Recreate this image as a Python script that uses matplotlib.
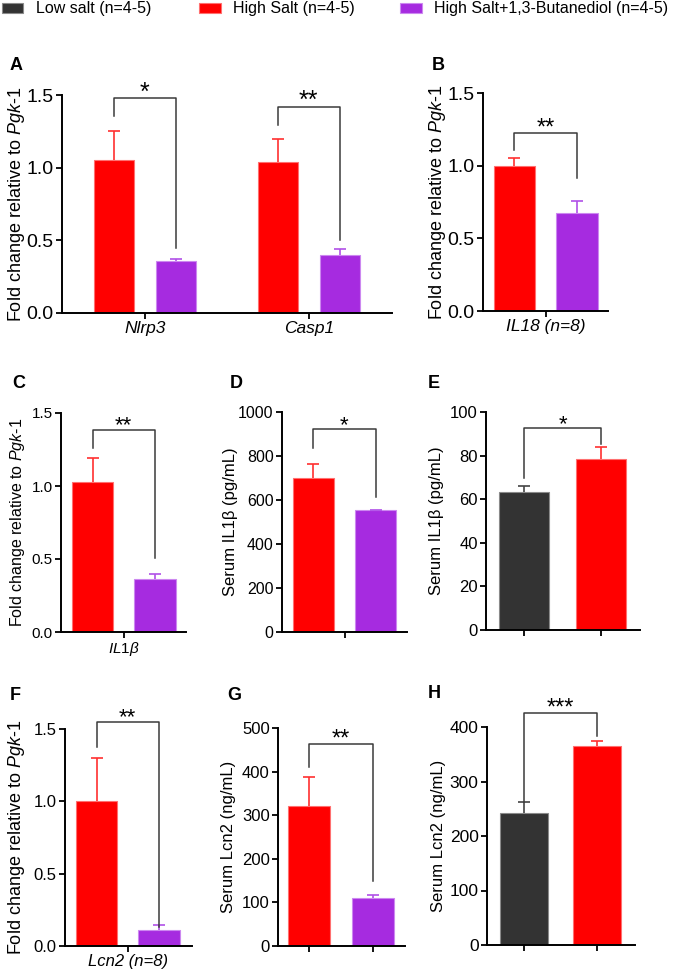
import matplotlib
matplotlib.use('Agg')
import matplotlib.pyplot as plt
from matplotlib.patches import Rectangle

plt.rcParams['font.family'] = ['Liberation Sans', 'DejaVu Sans']
plt.rcParams['mathtext.fontset'] = 'custom'
plt.rcParams['mathtext.rm'] = 'Liberation Sans'
plt.rcParams['mathtext.it'] = 'Liberation Sans:italic'

# ---------------- data ----------------
legend_labels = ['Low salt (n=4-5)', 'High Salt (n=4-5)', 'High Salt+1,3-Butanediol (n=4-5)']

a_genes = ['Nlrp3', 'Casp1']
a_high = [1.05, 1.04]
a_high_err = [0.20, 0.16]
a_bhb = [0.355, 0.40]
a_bhb_err = [0.015, 0.04]
a_sig = ['*', '**']

b_vals = [1.00, 0.675]
b_err = [0.05, 0.08]
c_vals = [1.03, 0.36]
c_err = [0.16, 0.04]
d_vals = [700, 553]
d_err = [65, 3]
e_vals = [63.5, 78.5]
e_err = [2.5, 5.5]
f_vals = [1.00, 0.11]
f_err = [0.30, 0.035]
g_vals = [320, 110]
g_err = [67, 7]
h_vals = [242, 365]
h_err = [21, 9]

b_sig, c_sig, d_sig, e_sig, f_sig, g_sig, h_sig = '**', '**', '*', '*', '**', '**', '***'

# ---------------- style ----------------
C_LOW = '#333333'
C_HIGH = '#FF0000'
C_BHB = '#A62BE0'
EDGE = {C_LOW: '#8a8a8a', C_HIGH: '#ff7070', C_BHB: '#cc88f0'}
ERRC = {C_LOW: '#444444', C_HIGH: '#ff3030', C_BHB: '#b050e8'}
BRK = '#3a3a3a'

W, H = 675, 973
fig = plt.figure(figsize=(W / 100, H / 100), dpi=100)


def mk(x0, x1, ytop, ybot):
    return fig.add_axes([x0 / W, 1 - ybot / H, (x1 - x0) / W, (ybot - ytop) / H])


def style(ax, ylim, yticks, tsize):
    for s in ['top', 'right']:
        ax.spines[s].set_visible(False)
    for s in ['left', 'bottom']:
        ax.spines[s].set_linewidth(1.4)
        ax.spines[s].set_color('black')
    ax.set_ylim(*ylim)
    ax.set_yticks(yticks)
    ax.tick_params(axis='both', direction='out', length=4, width=1.3, labelsize=tsize, pad=2)


def bars(ax, xs, vals, errs, colors, width=0.66):
    x0, x1 = ax.get_xlim()
    ppu = ax.get_position().width * W / (x1 - x0)
    cw = 6.0 / ppu
    for x, v, e, c in zip(xs, vals, errs, colors):
        ax.bar(x, v, width=width, color=c, edgecolor=EDGE[c], linewidth=0.8, zorder=2)
        ax.vlines(x, v, v + e, color=ERRC[c], lw=1.2, zorder=3)
        ax.hlines(v + e, x - cw, x + cw, color=ERRC[c], lw=1.2, zorder=3)


def bracket(ax, x1, x2, top, yl, yr, sig, fs=17, off=-1):
    ax.plot([x1, x1, x2, x2], [yl, top, top, yr], color=BRK, lw=1.1, clip_on=False, zorder=4)
    ax.annotate(sig, xy=((x1 + x2) / 2, top), xytext=(0, off), textcoords='offset points',
                ha='center', va='baseline', fontsize=fs, annotation_clip=False)


def ftext(x, y, s, **kw):
    fig.text(x / W, 1 - y / H, s, **kw)


YL_FOLD = r'Fold change relative to $\mathit{Pgk}$-$\mathit{1}$'

# ---------------- legend ----------------
leg_boxes = [(2, 23), (199, 221), (400, 422)]
leg_text_x = [36, 233, 434]
for (x0, x1), tx, lab, c in zip(leg_boxes, leg_text_x, legend_labels, [C_LOW, C_HIGH, C_BHB]):
    fig.add_artist(Rectangle((x0 / W, 1 - 13 / H), (x1 - x0) / W, 10 / H, transform=fig.transFigure,
                             facecolor=c, edgecolor=EDGE[c], linewidth=0.8))
    ftext(tx, 9, lab, ha='left', va='center', fontsize=11.5)

# ---------------- Panel A ----------------
ax = mk(62, 392, 95, 312.7)
ax.set_xlim(-0.846, 4.52)
gpos = [0, 2.667]
xs_h = [g for g in gpos]
xs_b = [g + 1 for g in gpos]
for i in range(2):
    bars(ax, [xs_h[i], xs_b[i]], [a_high[i], a_bhb[i]], [a_high_err[i], a_bhb_err[i]], [C_HIGH, C_BHB], width=0.65)
style(ax, (0, 1.5), [0, 0.5, 1.0, 1.5], 14)
ax.set_yticklabels(['0.0', '0.5', '1.0', '1.5'])
ax.set_xlim(-0.846, 4.52)
ax.set_xticks([g + 0.5 for g in gpos])
ax.set_xticklabels(a_genes, fontstyle='italic', fontsize=12.5)
bracket(ax, xs_h[0], xs_b[0], 1.479, 1.355, 0.446, a_sig[0], fs=18)
bracket(ax, xs_h[1], xs_b[1], 1.42, 1.29, 0.50, a_sig[1], fs=18)
ftext(17, 204, YL_FOLD, rotation=90, ha='center', va='center', fontsize=13)
ftext(10, 66, 'A', fontweight='bold', fontsize=13, ha='left', va='center')

# ---------------- Panel B ----------------
ax = mk(483, 608, 93, 311)
ax.set_xlim(-0.504, 1.496)
bars(ax, [0, 1], b_vals, b_err, [C_HIGH, C_BHB])
style(ax, (0, 1.5), [0, 0.5, 1.0, 1.5], 14)
ax.set_yticklabels(['0.0', '0.5', '1.0', '1.5'])
ax.set_xlim(-0.504, 1.496)
ax.set_xticks([0.5])
ax.set_xticklabels(['IL18 (n=8)'], fontstyle='italic', fontsize=12.5)
bracket(ax, 0, 1, 1.227, 1.108, 0.917, b_sig, fs=17)
ftext(438, 202, YL_FOLD, rotation=90, ha='center', va='center', fontsize=13)
ftext(432, 66, 'B', fontweight='bold', fontsize=13, ha='left', va='center')

# ---------------- Panel C ----------------
ax = mk(61, 186, 413, 632)
ax.set_xlim(-0.504, 1.496)
bars(ax, [0, 1], c_vals, c_err, [C_HIGH, C_BHB])
style(ax, (0, 1.5), [0, 0.5, 1.0, 1.5], 11)
ax.set_yticklabels(['0.0', '0.5', '1.0', '1.5'])
ax.set_xlim(-0.504, 1.496)
ax.set_xticks([0.5])
ax.set_xticklabels([r'$\mathit{IL1\beta}$'], fontsize=11)
bracket(ax, 0, 1, 1.384, 1.26, 0.507, c_sig, fs=16)
ftext(18, 522, YL_FOLD, rotation=90, ha='center', va='center', fontsize=11.5)
ftext(12, 384, 'C', fontweight='bold', fontsize=13, ha='left', va='center')

# ---------------- Panel D ----------------
ax = mk(282, 407, 412, 632)
ax.set_xlim(-0.508, 1.508)
bars(ax, [0, 1], d_vals, d_err, [C_HIGH, C_BHB])
style(ax, (0, 1000), [0, 200, 400, 600, 800, 1000], 11.5)
ax.set_xlim(-0.508, 1.508)
ax.set_xticks([0.5])
ax.set_xticklabels([''])
bracket(ax, 0, 1, 921, 836, 614, d_sig, fs=16)
ftext(231, 522, 'Serum IL1β (pg/mL)', rotation=90, ha='center', va='center', fontsize=12)
ftext(230, 384, 'D', fontweight='bold', fontsize=13, ha='left', va='center')

# ---------------- Panel E ----------------
ax = mk(486, 640, 412, 630)
ax.set_xlim(-0.494, 1.506)
bars(ax, [0, 1], e_vals, e_err, [C_LOW, C_HIGH], width=0.65)
style(ax, (0, 100), [0, 20, 40, 60, 80, 100], 12)
ax.set_xlim(-0.494, 1.506)
ax.set_xticks([0, 1])
ax.set_xticklabels(['', ''])
bracket(ax, 0, 1, 92.5, 69.7, 85.3, e_sig, fs=16)
ftext(436, 521, 'Serum IL1β (pg/mL)', rotation=90, ha='center', va='center', fontsize=12)
ftext(428, 384, 'E', fontweight='bold', fontsize=13, ha='left', va='center')

# ---------------- Panel F ----------------
ax = mk(65, 192, 729, 946)
ax.set_xlim(-0.504, 1.528)
bars(ax, [0, 1], f_vals, f_err, [C_HIGH, C_BHB])
style(ax, (0, 1.5), [0, 0.5, 1.0, 1.5], 12)
ax.set_yticklabels(['0.0', '0.5', '1.0', '1.5'])
ax.set_xlim(-0.504, 1.528)
ax.set_xticks([0.5])
ax.set_xticklabels(['Lcn2 (n=8)'], fontstyle='italic', fontsize=12)
bracket(ax, 0, 1, 1.548, 1.378, 0.131, f_sig, fs=16)
ftext(17, 837, YL_FOLD, rotation=90, ha='center', va='center', fontsize=13)
ftext(10, 695, 'F', fontweight='bold', fontsize=13, ha='left', va='center')

# ---------------- Panel G ----------------
ax = mk(278, 405, 728, 946)
ax.set_xlim(-0.484, 1.5)
bars(ax, [0, 1], g_vals, g_err, [C_HIGH, C_BHB])
style(ax, (0, 500), [0, 100, 200, 300, 400, 500], 12)
ax.set_xlim(-0.484, 1.5)
ax.set_xticks([0, 1])
ax.set_xticklabels(['', ''])
bracket(ax, 0, 1, 463, 410, 149, g_sig, fs=17)
ftext(228, 837, 'Serum Lcn2 (ng/mL)', rotation=90, ha='center', va='center', fontsize=12)
ftext(227, 695, 'G', fontweight='bold', fontsize=13, ha='left', va='center')

# ---------------- Panel H ----------------
ax = mk(487, 635, 727, 945)
ax.set_xlim(-0.507, 1.52)
bars(ax, [0, 1], h_vals, h_err, [C_LOW, C_HIGH])
style(ax, (0, 400), [0, 100, 200, 300, 400], 12.5)
ax.set_xlim(-0.507, 1.52)
ax.set_xticks([0, 1])
ax.set_xticklabels(['', ''])
bracket(ax, 0, 1, 425.7, 263, 383, h_sig, fs=17)
ftext(438, 836, 'Serum Lcn2 (ng/mL)', rotation=90, ha='center', va='center', fontsize=12)
ftext(428, 694, 'H', fontweight='bold', fontsize=13, ha='left', va='center')

fig.savefig('out.png', dpi=100)
